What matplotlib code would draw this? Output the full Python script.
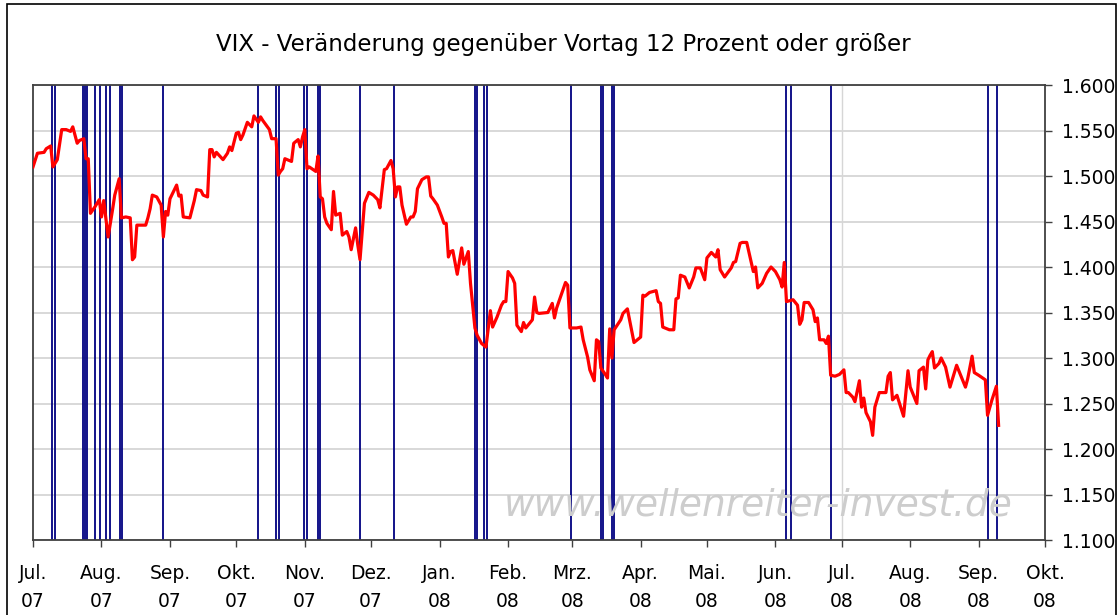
import numpy as np
import matplotlib
matplotlib.use('Agg')
import matplotlib.pyplot as plt
from matplotlib.patches import Rectangle
from matplotlib.ticker import FuncFormatter, MultipleLocator

plt.rcParams['font.family'] = ['DejaVu Sans']

# ---------------- data ----------------
start_date = '2007-07-01'

day_offsets = [
    0, 2, 5, 6, 8, 9, 11, 13, 15, 17, 18, 20, 21, 23, 24, 25, 26, 28, 30, 31,
    32, 34, 36, 37, 39, 40, 42, 44, 45, 46, 47, 51, 52, 53, 54, 56, 58, 59, 60, 61,
    62, 65, 66, 67, 68, 71, 73, 74, 76, 77, 79, 80, 81, 82, 83, 86, 88, 89, 90, 92,
    93, 94, 95, 97, 99, 100, 102, 103, 104, 107, 108, 110, 111, 112, 113, 114, 117, 118, 120, 121,
    122, 123, 124, 125, 128, 129, 130, 131, 132, 133, 135, 136, 137, 139, 140, 142, 143, 144, 146, 147,
    148, 150, 152, 154, 156, 157, 159, 160, 162, 163, 164, 165, 166, 167, 169, 171, 172, 173, 174, 176,
    178, 179, 180, 181, 183, 185, 186, 187, 188, 189, 190, 192, 194, 195, 197, 198, 200, 201, 203, 205,
    207, 208, 210, 212, 213, 214, 215, 217, 218, 219, 221, 222, 223, 224, 226, 227, 228, 229, 233, 235,
    236, 237, 239, 241, 242, 243, 246, 248, 249, 251, 252, 254, 255, 256, 257, 259, 260, 261, 262, 263,
    266, 267, 269, 272, 275, 276, 277, 279, 282, 283, 284, 285, 288, 290, 291, 292, 293, 295, 297, 299,
    300, 302, 304, 305, 307, 309, 310, 311, 313, 316, 317, 318, 320, 321, 323, 325, 326, 327, 328, 330,
    332, 334, 336, 338, 339, 340, 341, 344, 346, 347, 348, 349, 351, 353, 354, 355, 356, 358, 359, 360,
    361, 363, 365, 367, 368, 369, 371, 372, 374, 375, 376, 377, 379, 380, 381, 383, 386, 387, 388, 389,
    391, 394, 396, 397, 400, 401, 403, 404, 405, 406, 407, 408, 410, 411, 413, 415, 418, 422, 423, 425,
    426, 428, 431, 432, 434, 436, 437,
]

index_values = [
    1510, 1525, 1526, 1530, 1533, 1510, 1518, 1551, 1551, 1549, 1554, 1536, 1539, 1541, 1519, 1519, 1459, 1466, 1474, 1455,
    1473, 1433, 1463, 1479, 1497, 1454, 1455, 1454, 1408, 1411, 1446, 1446, 1454, 1464, 1479, 1477, 1468, 1433, 1461, 1457,
    1475, 1490, 1478, 1479, 1455, 1454, 1473, 1485, 1484, 1479, 1477, 1529, 1529, 1521, 1526, 1518, 1525, 1532, 1528, 1547,
    1548, 1540, 1545, 1559, 1554, 1566, 1559, 1565, 1561, 1551, 1541, 1541, 1501, 1505, 1508, 1519, 1516, 1536, 1540, 1532,
    1543, 1551, 1508, 1510, 1505, 1522, 1477, 1475, 1455, 1448, 1441, 1483, 1457, 1459, 1435, 1439, 1433, 1419, 1443, 1424,
    1408, 1470, 1482, 1479, 1474, 1465, 1507, 1508, 1517, 1508, 1477, 1488, 1488, 1468, 1447, 1455, 1455, 1461, 1486, 1496,
    1499, 1499, 1478, 1475, 1468, 1455, 1448, 1448, 1411, 1417, 1418, 1392, 1421, 1403, 1417, 1382, 1333, 1325, 1316, 1312,
    1352, 1334, 1345, 1358, 1362, 1362, 1395, 1388, 1382, 1336, 1329, 1339, 1333, 1336, 1342, 1367, 1350, 1349, 1350, 1360,
    1344, 1355, 1369, 1383, 1380, 1333, 1333, 1334, 1320, 1301, 1287, 1275, 1320, 1318, 1289, 1282, 1278, 1332, 1300, 1331,
    1342, 1349, 1354, 1317, 1323, 1369, 1368, 1372, 1374, 1362, 1360, 1334, 1331, 1331, 1365, 1366, 1391, 1389, 1377, 1389,
    1399, 1399, 1386, 1410, 1416, 1411, 1419, 1397, 1389, 1399, 1405, 1406, 1426, 1427, 1427, 1406, 1395, 1400, 1377, 1382,
    1393, 1400, 1395, 1386, 1378, 1405, 1362, 1364, 1358, 1337, 1342, 1361, 1361, 1353, 1340, 1344, 1320, 1320, 1316, 1324,
    1281, 1280, 1282, 1287, 1262, 1262, 1257, 1252, 1275, 1246, 1256, 1240, 1230, 1215, 1246, 1262, 1262, 1280, 1284, 1254,
    1259, 1236, 1286, 1268, 1250, 1286, 1290, 1266, 1298, 1303, 1307, 1289, 1294, 1300, 1290, 1268, 1292, 1268, 1277, 1302,
    1284, 1281, 1276, 1237, 1254, 1269, 1226,
]

# days (offset from start_date) on which the VIX rose 12 % or more
event_offsets = [
    8.5, 10, 22.5, 23.5, 24.5, 28, 30.5, 33, 35, 39.5, 40.5, 59, 102, 110, 111.5,
    122.5, 124, 129, 130, 148, 163.5, 200, 201, 204, 205.5, 243.5, 257, 258, 262, 263,
    341, 343, 361, 432, 436.5,
]

month_labels = ['Jul.\n07', 'Aug.\n07', 'Sep.\n07', 'Okt.\n07', 'Nov.\n07', 'Dez.\n07',
                'Jan.\n08', 'Feb.\n08', 'Mrz.\n08', 'Apr.\n08', 'Mai.\n08', 'Jun.\n08',
                'Jul.\n08', 'Aug.\n08', 'Sep.\n08', 'Okt.\n08']
first_month, last_month = '2007-07', '2008-10'
year_gridline = '2008-07-01'
y_min, y_max, y_step = 1100, 1600, 50

title = 'VIX - Veränderung gegenüber Vortag 12 Prozent oder größer'
watermark = 'www.wellenreiter-invest.de'

# ---------------- build ----------------
base = np.datetime64(start_date, 'h')
dates = base + (np.array(day_offsets) * 24).astype('timedelta64[h]')
event_dates = base + np.round(np.array(event_offsets) * 24).astype(int).astype('timedelta64[h]')
months = np.arange(np.datetime64(first_month), np.datetime64(last_month) + 1,
                   dtype='datetime64[M]').astype('datetime64[D]')

W, H = 1120, 615
fig = plt.figure(figsize=(W / 100, H / 100), dpi=100)
ax = fig.add_axes([33 / W, 1 - 540 / H, (1045 - 33) / W, (540 - 85) / H])

ax.set_ylim(y_min, y_max)
ax.set_xlim(months[0], months[-1])

ax.yaxis.set_major_locator(MultipleLocator(y_step))
ax.yaxis.set_major_formatter(FuncFormatter(lambda v, p: f"{int(round(v)):,}".replace(',', '.')))
ax.yaxis.tick_right()
ax.yaxis.grid(True, color='#d6d6d6', lw=1.3, zorder=0)
ax.set_axisbelow(True)
ax.axvline(np.datetime64(year_gridline), color='#d6d6d6', lw=1.0, zorder=0)

for ev in event_dates:
    ax.axvline(ev, color='#000080', lw=1.3, zorder=2)

ax.plot(dates, index_values, color='#ff0000', lw=2.3, zorder=3)

ax.set_xticks(months)
ax.set_xticklabels(month_labels)
for lab in ax.get_xticklabels():
    lab.set_linespacing(1.6)

ax.tick_params(axis='x', direction='out', length=5, width=1, color='#404040',
               pad=12, labelsize=13.5, labelcolor='black')
ax.tick_params(axis='y', direction='out', length=5, width=1, color='#404040',
               pad=7, labelsize=13.5, labelcolor='black', right=True, left=False)

for s in ax.spines.values():
    s.set_color('#404040')
    s.set_linewidth(1.3)

fig.text(563 / W, 1 - 45 / H, title, ha='center', va='center', fontsize=16.5)

fig.text(758 / W, 1 - 506 / H, watermark, ha='center', va='center', fontsize=27,
         style='italic', color='#cdcdcd', zorder=1)

fig.patches.append(Rectangle((7 / W, -0.1), (1116 - 7) / W, 1.1 - 4 / H,
                             transform=fig.transFigure, fill=False,
                             edgecolor='black', lw=1.2))

fig.savefig('out.png', dpi=100)
